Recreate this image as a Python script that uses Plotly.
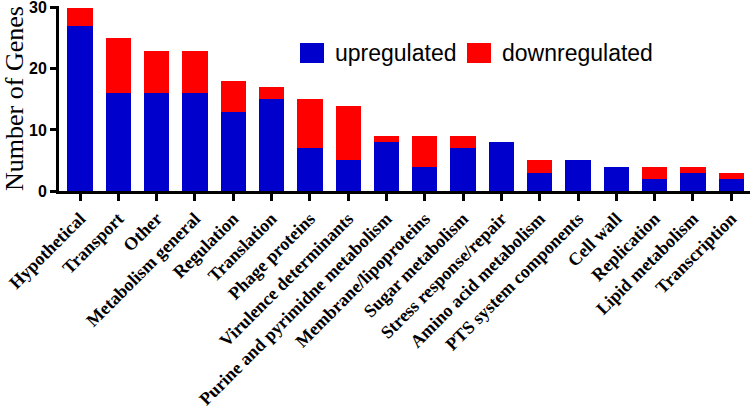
import plotly.graph_objects as go

categories = ["Hypothetical", "Transport", "Other", "Metabolism general", "Regulation",
              "Translation", "Phage proteins", "Virulence determinants",
              "Purine and pyrimidne metabolism", "Membrane/lipoproteins",
              "Sugar metabolism", "Stress response/repair", "Amino acid metabolism",
              "PTS system components", "Cell wall", "Replication", "Lipid metabolism",
              "Transcription"]
upregulated = [27, 16, 16, 16, 13, 15, 7, 5, 8, 4, 7, 8, 3, 5, 4, 2, 3, 2]
downregulated = [3, 9, 7, 7, 5, 2, 8, 9, 1, 5, 2, 0, 2, 0, 0, 2, 1, 1]
y_ticks = [0, 10, 20, 30]

BLUE = "#0000CD"
RED = "#FF0000"

fig = go.Figure()
fig.add_trace(go.Bar(x=categories, y=upregulated, name="upregulated",
                     marker=dict(color=BLUE, line=dict(width=0)), width=0.66, showlegend=False))
fig.add_trace(go.Bar(x=categories, y=downregulated, name="downregulated",
                     marker=dict(color=RED, line=dict(width=0)), width=0.66, showlegend=False))

L, T, B = 59, 6, 218
PW, PH = 750 - L, 409 - T - B

# legend drawn as shapes + text to match the large swatches
legend_items = [("upregulated", BLUE, 300), ("downregulated", RED, 467)]
for label, col, x0 in legend_items:
    fig.add_shape(type="rect", xref="paper", yref="paper",
                  x0=(x0 - L) / PW, x1=(x0 + 24 - L) / PW,
                  y0=(409 - B - 63) / PH, y1=(409 - B - 43) / PH,
                  fillcolor=col, line=dict(width=0))
    fig.add_annotation(text=label, xref="paper", yref="paper",
                       x=(x0 + 33 - L) / PW, y=(409 - B - 53) / PH,
                       xanchor="left", yanchor="middle", showarrow=False,
                       font=dict(family="Liberation Sans, Arial", size=23, color="black"))

fig.update_layout(
    barmode="stack",
    width=750, height=409,
    margin=dict(l=L, r=0, t=T, b=B),
    plot_bgcolor="white", paper_bgcolor="white",
    xaxis=dict(range=[-0.55, 17.49], tickangle=-45, showline=True, linecolor="black",
               linewidth=3, ticks="outside", ticklen=7, tickwidth=3, tickcolor="black",
               showgrid=False, automargin=False, ticklabeloverflow="allow",
               tickfont=dict(family="Liberation Serif, Times New Roman", size=18,
                             color="black", weight="bold")),
    yaxis=dict(range=[0, 30.3], tickvals=y_ticks, showline=True, linecolor="black",
               linewidth=3, ticks="outside", ticklen=6, tickwidth=3, tickcolor="black",
               showgrid=False, zeroline=False, automargin=False, ticklabeloverflow="allow",
               tickfont=dict(family="Liberation Sans, Arial", size=16, color="black",
                             weight="bold"),
               title=dict(text="Number of Genes", standoff=8,
                          font=dict(family="Liberation Serif, Times New Roman", size=26,
                                    color="black"))),
)

fig.write_html("out.html", config={"displayModeBar": False},
               post_script="document.body.style.margin='0';document.body.style.overflow='hidden';")
